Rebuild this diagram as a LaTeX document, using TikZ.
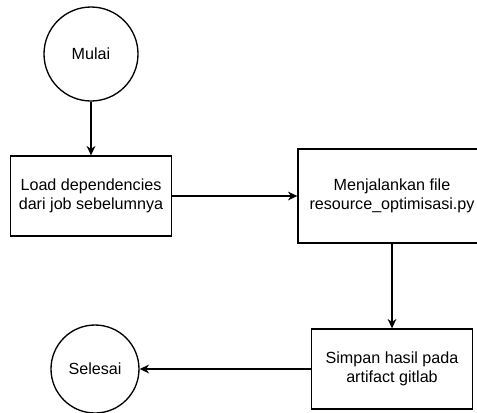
\documentclass[tikz,border=0pt]{standalone}
\usepackage{fontspec}
\setmainfont{Liberation Sans}
\usetikzlibrary{arrows.meta}
\begin{document}
\begin{tikzpicture}[x=0.75pt,y=-0.75pt,
  every node/.style={font=\fontsize{12.1}{13.8}\selectfont, align=center, line width=1pt},
  startstop/.style={draw, circle, inner sep=0pt},
  process/.style={draw, rectangle, inner sep=0pt},
  flow/.style={draw, line width=1pt, -{Stealth[length=7pt,width=6.5pt,inset=2.2pt]}}]
  \useasboundingbox (0,0) rectangle (477,412);
  \clip (0,0) rectangle (477,412);
  \node[startstop, minimum size=70.5pt] (mulai) at (91,54) {Mulai};
  \node[process, minimum width=120.75pt, minimum height=60pt] (load) at (91,196) {Load dependencies\\dari job sebelumnya};
  \node[process, minimum width=141pt, minimum height=70.5pt] (run) at (392,196) {Menjalankan file\\resource\_optimisasi.py};
  \node[process, minimum width=120.75pt, minimum height=60pt] (save) at (392,369) {Simpan hasil pada\\artifact gitlab};
  \node[startstop, minimum size=66pt] (selesai) at (95,369) {Selesai};
  \draw[flow] (mulai.south) -- (load.north);
  \draw[flow] (load.east) -- (run.west);
  \draw[flow] (run.south) -- (save.north);
  \draw[flow] (save.west) -- (selesai.east);
\end{tikzpicture}
\end{document}
